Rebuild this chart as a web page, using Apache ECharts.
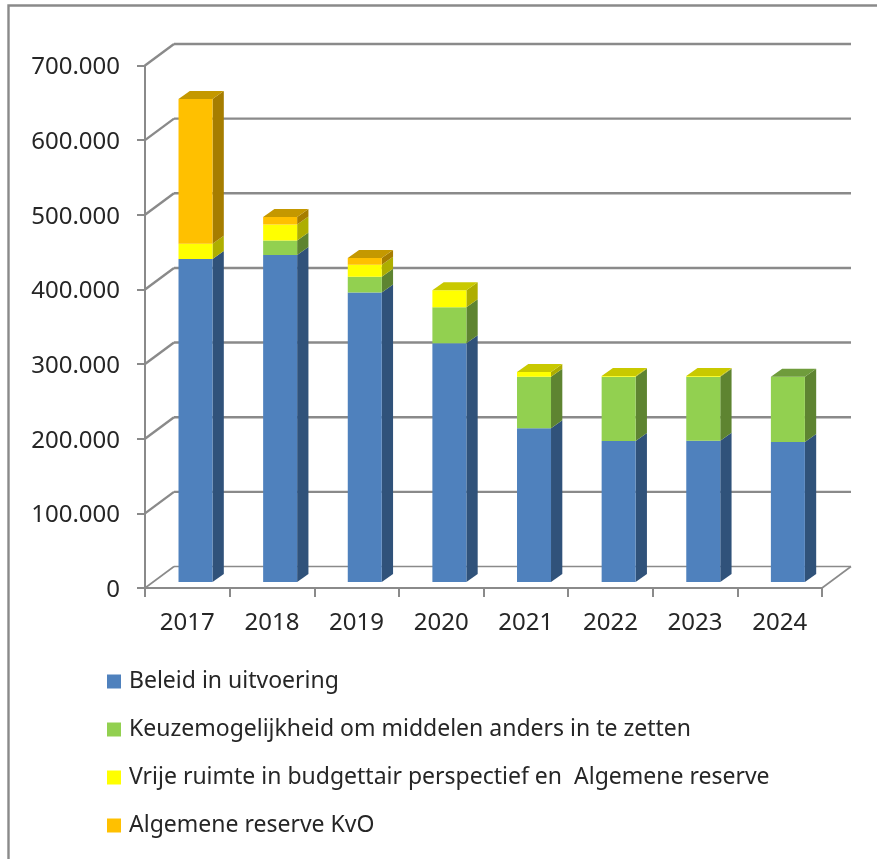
<!DOCTYPE html>
<html><head><meta charset="utf-8">
<style>html,body{margin:0;padding:0;background:#fff}#c{width:877px;height:859px;filter:blur(0.45px)}</style>
<script src="https://cdn.jsdelivr.net/npm/echarts@6/dist/echarts.min.js"></script>
</head><body><div id="c"></div>
<script>
const years = ['2017','2018','2019','2020','2021','2022','2023','2024'];
const beleid = [432600,438000,388000,320000,206000,189000,189400,187700];
const keuze = [0,19500,21000,48000,69000,86000,85600,87300];
const vrij = [20400,21500,16000,23000,6500,1000,1000,0];
const reserve = [194000,10000,9000,0,0,0,0,0];
const names = ['Beleid in uitvoering','Keuzemogelijkheid om middelen anders in te zetten','Vrije ruimte in budgettair perspectief en  Algemene reserve','Algemene reserve KvO'];
const yTicks = [0,100000,200000,300000,400000,500000,600000,700000];
const faces = [
  {front:'#4F81BD',side:'#30527A',top:'#3D6594'},
  {front:'#92D050',side:'#5E8431',top:'#6F9C3C'},
  {front:'#FFFF00',side:'#AEAE00',top:'#C9C900'},
  {front:'#FFC000',side:'#A67D00',top:'#C49800'}
];
const stackData = [beleid,keuze,vrij,reserve];
const WALL = [29,-21.5], GAP = [8.2,-6], DEPTH = [11.3,-8], BAR_W = 34, GRID = '#8A8A8A';
const poly = (pts,fill)=>({type:'polygon',shape:{points:pts},style:{fill:fill,stroke:null}});
function barSeries(k){
  return {
    type:'custom',name:names[k],coordinateSystem:'cartesian2d',clip:false,z:5,
    itemStyle:{color:faces[k].front},
    data:years.map((y,i)=>{
      let base=0; for(let s=0;s<k;s++) base+=stackData[s][i];
      let above=0; for(let s=k+1;s<stackData.length;s++) above+=stackData[s][i];
      return [i,base,base+stackData[k][i],above];
    }),
    encode:{x:0,y:2},
    renderItem(params,api){
      if(api.value(1)===api.value(2)) return {type:'group',children:[]};
      const a=api.coord([api.value(0),api.value(1)]), b=api.coord([api.value(0),api.value(2)]);
      const x0=a[0]-BAR_W/2+GAP[0], x1=x0+BAR_W, y0=a[1]+GAP[1], y1=b[1]+GAP[1];
      const ch=[
        poly([[x1,y0],[x1+DEPTH[0],y0+DEPTH[1]],[x1+DEPTH[0],y1+DEPTH[1]],[x1,y1]],faces[k].side),
        poly([[x0,y0],[x1,y0],[x1,y1],[x0,y1]],faces[k].front)
      ];
      if(api.value(3)===0) ch.push(poly([[x0,y1],[x1,y1],[x1+DEPTH[0],y1+DEPTH[1]],[x0+DEPTH[0],y1+DEPTH[1]]],faces[k].top));
      return {type:'group',children:ch};
    }
  };
}
const wall = {
  type:'custom',name:'wall',silent:true,clip:false,z:1,coordinateSystem:'cartesian2d',
  data:yTicks.map(v=>[v]),encode:{y:0},
  renderItem(params,api){
    const v=api.value(0), l=api.coord([0,v]), r=api.coord([years.length-1,v]);
    const bw=api.size([1,0])[0], xl=l[0]-bw/2, xr=r[0]+bw/2, y=l[1];
    const w=v===0?1.6:2.4;
    const line=(x1,y1,x2,y2,lw)=>({type:'line',shape:{x1,y1,x2,y2},style:{stroke:GRID,lineWidth:lw}});
    const ch=[
      line(xl,y,xl+WALL[0],y+WALL[1],w),
      line(xl+WALL[0],y+WALL[1],xr+WALL[0],y+WALL[1],w)
    ];
    if(v===0) ch.push(line(xr,y,xr+WALL[0],y+WALL[1],w));
    return {type:'group',children:ch};
  }
};
const chart = echarts.init(document.getElementById('c'),null,{renderer:'canvas'});
const FONT='Noto Sans';
chart.setOption({
  animation:false,backgroundColor:'#fff',
  grid:{left:145,right:55,top:65.5,bottom:271},
  xAxis:{type:'category',data:years,
    axisLine:{lineStyle:{color:GRID,width:2}},
    axisTick:{show:true,length:9,lineStyle:{color:GRID,width:2}},
    axisLabel:{color:'#262626',fontFamily:FONT,fontSize:24,margin:23},splitLine:{show:false}},
  yAxis:{type:'value',min:0,max:700000,interval:100000,
    axisLine:{show:true,lineStyle:{color:GRID,width:2}},
    axisTick:{show:true,length:8,lineStyle:{color:GRID,width:2}},
    splitLine:{show:false},
    axisLabel:{color:'#262626',fontFamily:FONT,fontSize:24,margin:25,verticalAlign:'top',lineHeight:4,
      formatter:v=>String(v).replace(/\B(?=(\d{3})+$)/g,'.')}},
  legend:{orient:'vertical',left:102,top:665,itemWidth:14,itemHeight:14,itemGap:25,icon:'rect',
    data:names,textStyle:{color:'#262626',fontFamily:FONT,fontSize:23,padding:[0,0,0,3]}},
  graphic:[{type:'polyline',shape:{points:[[8.5,859],[8.5,5.5],[877,5.5]]},style:{stroke:'#8A8A8A',lineWidth:2.4,fill:null},z:0}],
  series:[wall,...[0,1,2,3].map(barSeries)]
});
</script></body></html>
